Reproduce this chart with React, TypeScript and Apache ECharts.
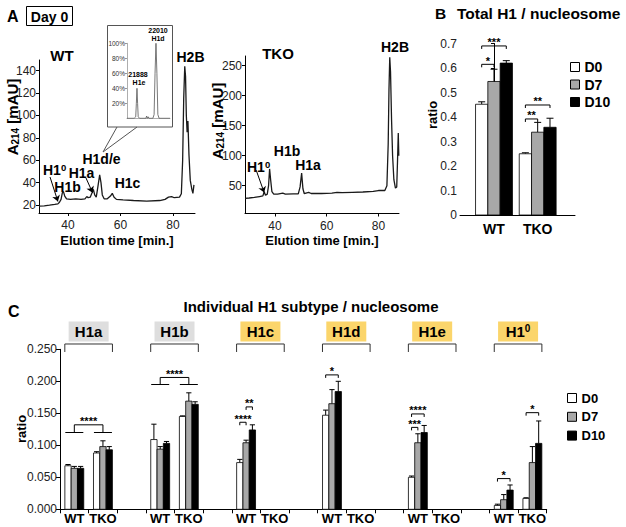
import React, { useEffect, useRef } from "react";
import * as echarts from "echarts";

// ---------- Panel A: chromatograms (elution time [min], A214 [mAU]) ----------
const wtTrace: [number, number][] = [
  [29, 19], [31, 19.3], [33, 19.8], [35, 20.5], [36.2, 21], [36.8, 22.5], [37.4, 25], [37.9, 31], [38.3, 32],
  [38.8, 28], [39.5, 25.5], [41, 25], [43, 25.5], [45, 25], [46.5, 25.5], [47.2, 27.5], [47.7, 26.5], [48.5, 27],
  [49.2, 31], [49.7, 34], [50.2, 29], [50.8, 27], [51.4, 36], [52.1, 47], [52.6, 40], [53.1, 29], [53.8, 25.5],
  [55, 25.5], [56.2, 28], [56.9, 30.4], [57.6, 27], [58.5, 25], [61, 24.5], [65, 24], [70, 23.5], [75, 24],
  [77, 25], [78.3, 27], [79.5, 27.5], [80.5, 26.5], [82.5, 27], [83.2, 30], [83.7, 60], [84.1, 115], [84.5, 144],
  [84.8, 135], [85.1, 100], [85.4, 85], [85.7, 95], [86.1, 65], [86.6, 42], [87.2, 34], [87.6, 30.4], [88, 38],
];
const tkoTrace: [number, number][] = [
  [28.4, 29], [30, 29.5], [32, 30.5], [34, 32], [35.3, 33], [35.8, 40], [36.3, 34], [37, 36], [37.5, 50],
  [37.9, 78], [38.3, 60], [38.8, 40], [39.5, 36], [41, 36], [43, 37.5], [44, 36], [47, 36.5], [49, 36.5],
  [49.7, 48], [50.3, 71], [50.8, 45], [51.3, 37], [53, 39], [54, 37], [58, 37], [62, 37.5], [64, 39], [66, 38.5],
  [70, 39], [74, 39.5], [78, 40.5], [80, 42], [82.5, 42], [83.3, 50], [83.8, 120], [84.1, 210], [84.4, 264],
  [84.7, 240], [85.1, 160], [85.5, 100], [86, 60], [86.6, 46], [87.1, 48], [87.4, 90], [87.7, 138], [87.9, 100],
];
// inset: deconvoluted mass spectrum (mass [Da], relative intensity %)
const insetTrace: [number, number][] = [
  [21824, 0], [21870, 0], [21880, 2], [21884, 20], [21888, 40], [21892, 20], [21896, 2], [21905, 0],
  [21945, 0], [21950, 3], [21955, 0], [21960, 2], [21965, 0], [21990, 0], [21998, 5], [22004, 60],
  [22010, 100], [22016, 60], [22022, 5], [22030, 0], [22100, 0],
];
const wtYTicks = [20, 40, 60, 80, 100, 120, 140];
const tkoYTicks = [50, 100, 150, 200, 250];
const elutionTicks = [40, 60, 80];
const insetYTicks = [20, 40, 60, 80, 100];

// arrows pointing at the H1(0) / H1a peaks: [fromX, fromY, toX, toY] in data units
const wtArrows = [
  [33.2, 45, 36.2, 23.1],
  [46.9, 44.1, 49.4, 31],
];
const tkoArrows = [[32.7, 76, 35.8, 38.5]];

// ---------- Panel B: total H1 / nucleosome ----------
const genotypes = ["WT", "TKO"];
const days = ["D0", "D7", "D10"];
const totalD0 = [0.452, 0.25];
const totalD0Err = [0.01, 0.004];
const totalD7 = [0.545, 0.338];
const totalD7Err = [0.05, 0.04];
const totalD10 = [0.62, 0.358];
const totalD10Err = [0.01, 0.037];
const sigB = [
  { geno: 0, from: 0, to: 1, y: 0.615, label: "*" },
  { geno: 0, from: 0, to: 2, y: 0.69, label: "***" },
  { geno: 1, from: 0, to: 1, y: 0.392, label: "**" },
  { geno: 1, from: 0, to: 2, y: 0.449, label: "**" },
];

// ---------- Panel C: individual H1 subtype / nucleosome ----------
const subtypes = ["H1a", "H1b", "H1c", "H1d", "H1e", "H1\u2070"];
// order: [subtype0 WT, subtype0 TKO, subtype1 WT, ...]
const h1D0 = [0.068, 0.088, 0.109, 0.145, 0.073, null, 0.147, null, 0.05, null, 0.006, 0.017];
const h1D0Err = [0.002, 0.002, 0.024, 0.001, 0.005, null, 0.008, null, 0.002, null, 0.002, 0.001];
const h1D7 = [0.064, 0.098, 0.094, 0.169, 0.104, null, 0.165, null, 0.104, null, 0.015, 0.073];
const h1D7Err = [0.003, 0.009, 0.004, 0.013, 0.004, null, 0.022, null, 0.014, null, 0.008, 0.025];
const h1D10 = [0.064, 0.093, 0.103, 0.164, 0.124, null, 0.184, null, 0.12, null, 0.03, 0.103];
const h1D10Err = [0.003, 0.005, 0.003, 0.004, 0.008, null, 0.016, null, 0.011, null, 0.008, 0.035];
const sigCBetween = [
  { group: 0, y1: 0.12, y2: 0.132, label: "****" },
  { group: 1, y1: 0.195, y2: 0.206, label: "****" },
];
const sigCWithin = [
  { cat: 6, from: 0, to: 1, y: 0.136, label: "****" },
  { cat: 6, from: 1, to: 2, y: 0.16, label: "**" },
  { cat: 9, from: 0, to: 2, y: 0.21, label: "*" },
  { cat: 12, from: 0, to: 1, y: 0.128, label: "***" },
  { cat: 12, from: 0, to: 2, y: 0.149, label: "****" },
  { cat: 15, from: 0, to: 2, y: 0.048, label: "*" },
  { cat: 16, from: 0, to: 2, y: 0.151, label: "*" },
];
const cYTicks = [0, 0.05, 0.1, 0.15, 0.2, 0.25];

const FONT = "'Liberation Sans', Arial, Helvetica, sans-serif";
const BAR_COLORS = ["#ffffff", "#a8a8a8", "#000000"];

const cCategories: string[] = [];
subtypes.forEach((s, g) => {
  cCategories.push(`${s}|WT`, `${s}|TKO`);
  if (g < subtypes.length - 1) cCategories.push(`${s}|`);
});

function txt(text: string, x: number, y: number, size: number, align = "center", extra: any = {}) {
  return {
    type: "text",
    x,
    y,
    z: 100,
    ...extra,
    style: {
      text,
      fontSize: size,
      fontWeight: "bold",
      fontFamily: FONT,
      fill: "#000",
      align,
      textAlign: align,
      verticalAlign: "middle",
      textVerticalAlign: "middle",
      ...(extra.style || {}),
    },
  };
}

function supText(x: number, y: number, size: number, align = "left") {
  return {
    type: "text",
    x,
    y,
    z: 100,
    style: {
      text: "{m|H1}{s|0}",
      align,
      textAlign: align,
      verticalAlign: "middle",
      textVerticalAlign: "middle",
      rich: {
        m: { fontSize: size, fontWeight: "bold", fontFamily: FONT, fill: "#000", lineHeight: size + 1 },
        s: { fontSize: size * 0.68, fontWeight: "bold", fontFamily: FONT, fill: "#000", verticalAlign: "top" },
      },
    },
  };
}

function aLabel(x: number, y: number) {
  return {
    type: "text",
    x,
    y,
    z: 100,
    rotation: Math.PI / 2,
    style: {
      text: "{m|A}{s|214}{m| [mAU]}",
      align: "center",
      textAlign: "center",
      verticalAlign: "middle",
      textVerticalAlign: "middle",
      rich: {
        m: { fontSize: 15, fontWeight: "bold", fontFamily: FONT, fill: "#000", lineHeight: 17 },
        s: { fontSize: 10, fontWeight: "bold", fontFamily: FONT, fill: "#000", verticalAlign: "bottom" },
      },
    },
  };
}

const makeBarRender = (bw: number, cap: number) => (params: any, api: any) => {
  const c = api.value(0);
  const m = api.value(1);
  const e = api.value(2);
  const d = api.value(3);
  const base = api.coord([c, 0]);
  const top = api.coord([c, m]);
  const et = api.coord([c, m + e]);
  const x = base[0] + (d - 1) * bw;
  const st = api.style();
  return {
    type: "group",
    children: [
      { type: "line", shape: { x1: x, y1: top[1], x2: x, y2: et[1] }, style: { stroke: "#000", lineWidth: 1 } },
      { type: "line", shape: { x1: x - cap, y1: et[1], x2: x + cap, y2: et[1] }, style: { stroke: "#000", lineWidth: 1 } },
      {
        type: "rect",
        shape: { x: x - bw / 2, y: top[1], width: bw, height: base[1] - top[1] },
        style: { fill: st.fill, stroke: "#000", lineWidth: 0.8 },
      },
    ],
  };
};

function starText(x: number, y: number, label: string) {
  return {
    type: "text",
    x,
    y: y - 3.5,
    style: {
      text: label,
      fontSize: 11,
      fontWeight: "bold",
      fontFamily: FONT,
      fill: "#000",
      align: "center",
      textAlign: "center",
      verticalAlign: "middle",
      textVerticalAlign: "middle",
    },
  };
}

const makeWithinRender = (list: any[], bw: number, catKey: string) => (params: any, api: any) => {
  const s = list[params.dataIndex];
  const p = api.coord([s[catKey], s.y]);
  const x1 = p[0] + (s.from - 1) * bw;
  const x2 = p[0] + (s.to - 1) * bw;
  const y = p[1];
  return {
    type: "group",
    children: [
      {
        type: "polyline",
        shape: { points: [[x1, y + 3], [x1, y], [x2, y], [x2, y + 3]] },
        style: { stroke: "#000", lineWidth: 1, fill: "none" },
      },
      starText((x1 + x2) / 2, y, s.label),
    ],
  };
};

function buildOption() {
  const bSeries = days.map((d, di) => {
    const means = [totalD0, totalD7, totalD10][di];
    const errs = [totalD0Err, totalD7Err, totalD10Err][di];
    return {
      type: "custom",
      name: d,
      xAxisIndex: 3,
      yAxisIndex: 3,
      itemStyle: { color: BAR_COLORS[di], borderColor: "#000", borderWidth: 1 },
      encode: { x: 0, y: 1 },
      data: genotypes.map((g, gi) => [gi, means[gi], errs[gi], di]),
      renderItem: makeBarRender(12.3, 3.5),
    };
  });

  const cSeries = days.map((d, di) => {
    const means = [h1D0, h1D7, h1D10][di];
    const errs = [h1D0Err, h1D7Err, h1D10Err][di];
    const data: any[] = [];
    means.forEach((m, i) => {
      if (m == null) return;
      const g = Math.floor(i / 2);
      const k = i % 2;
      data.push([g * 3 + k, m, errs[i], di]);
    });
    return {
      type: "custom",
      name: d,
      xAxisIndex: 4,
      yAxisIndex: 4,
      itemStyle: { color: BAR_COLORS[di], borderColor: "#000", borderWidth: 1 },
      encode: { x: 0, y: 1 },
      data,
      renderItem: makeBarRender(6.3, 2.6),
    };
  });

  const axisLine = { show: true, lineStyle: { color: "#000", width: 1 } };
  const tickLabel = (size: number) => ({ fontSize: size, color: "#222", fontFamily: FONT });

  const arrowMark = (arr: number[][]) => ({
    silent: true,
    symbol: ["none", "arrow"],
    symbolSize: 6,
    lineStyle: { color: "#000", width: 1, type: "solid" },
    label: { show: false },
    emphasis: { disabled: true },
    data: arr.map((a) => [{ coord: [a[0], a[1]] }, { coord: [a[2], a[3]] }]),
  });

  const graphics: any[] = [
    // Panel A
    txt("A", 7, 16, 16, "left"),
    { type: "rect", shape: { x: 26.5, y: 6.5, width: 46, height: 19 }, style: { fill: "none", stroke: "#000", lineWidth: 1 }, z: 100 },
    txt("Day 0", 49.5, 16.5, 14),
    txt("WT", 62, 55, 15),
    txt("TKO", 278, 53, 15),
    txt("H2B", 190.5, 57, 14),
    txt("H2B", 395, 47, 14),
    supText(43, 170, 14),
    txt("H1b", 67.5, 186.7, 14),
    txt("H1a", 81.5, 173, 14),
    txt("H1d/e", 101.5, 159.3, 14),
    txt("H1c", 127.5, 182.7, 14),
    supText(247, 166.5, 14),
    txt("H1b", 287, 151, 14),
    txt("H1a", 308, 164.7, 14),
    txt("Elution time [min.]", 117, 240, 13),
    txt("Elution time [min.]", 322, 240, 13),
    aLabel(12, 117),
    aLabel(217, 121),
    // inset box + callout
    { type: "rect", shape: { x: 107.5, y: 25.5, width: 65, height: 101.5 }, style: { fill: "none", stroke: "#555", lineWidth: 1 }, z: 1 },
    { type: "line", shape: { x1: 117, y1: 127, x2: 103, y2: 152 }, style: { stroke: "#555", lineWidth: 1 }, z: 1 },
    { type: "line", shape: { x1: 137, y1: 127, x2: 103, y2: 152 }, style: { stroke: "#555", lineWidth: 1 }, z: 1 },
    txt("22010", 158, 30.5, 7),
    txt("H1d", 158, 38, 7),
    txt("21888", 138, 74, 7),
    txt("H1e", 139, 82, 7),
    // Panel B
    txt("B", 435, 13.5, 15.5, "left"),
    txt("Total H1 / nucleosome", 457, 13.5, 15.5, "left"),
    txt("ratio", 432, 115, 13, "center", { rotation: Math.PI / 2 }),
    // Panel C
    txt("C", 8, 311, 16, "left"),
    txt("Individual H1 subtype / nucleosome", 311, 306.7, 15),
    txt("ratio", 21, 429, 13, "center", { rotation: Math.PI / 2 }),
  ];

  return {
    animation: false,
    backgroundColor: "#ffffff",
    textStyle: { fontFamily: FONT },
    grid: [
      { left: 39, top: 60, width: 156, height: 153 },
      { left: 245, top: 56, width: 154, height: 157.5 },
      { left: 127, top: 43.3, width: 43, height: 75 },
      { left: 460, top: 43.5, width: 115, height: 171.5 },
      { left: 60, top: 349.3, width: 486.7, height: 160 },
    ],
    xAxis: [
      {
        gridIndex: 0, type: "value", min: 29, max: 88.4, axisLine,
        axisTick: { show: true, length: 3, customValues: elutionTicks, lineStyle: { color: "#000" } },
        axisLabel: { ...tickLabel(12), customValues: elutionTicks, margin: 6 },
        splitLine: { show: false },
      },
      {
        gridIndex: 1, type: "value", min: 28.38, max: 87.98, axisLine,
        axisTick: { show: true, length: 3, customValues: elutionTicks, lineStyle: { color: "#000" } },
        axisLabel: { ...tickLabel(12), customValues: elutionTicks, margin: 6 },
        splitLine: { show: false },
      },
      {
        gridIndex: 2, type: "value", min: 21824, max: 22100,
        axisLine: { show: true, lineStyle: { color: "#999", width: 0.8 } },
        axisTick: { show: false }, axisLabel: { show: false }, splitLine: { show: false },
      },
      {
        gridIndex: 3, type: "value", min: -0.778, max: 1.854, axisLine,
        axisTick: { show: false },
        axisLabel: {
          customValues: [0, 1],
          formatter: (v: number) => genotypes[Math.round(v)] || "",
          fontSize: 14, fontWeight: "bold", color: "#000", fontFamily: FONT, margin: 7,
        },
        splitLine: { show: false },
      },
      {
        gridIndex: 4, type: "category", data: cCategories, boundaryGap: true, axisLine,
        axisTick: { show: true, interval: 0, length: 4, lineStyle: { color: "#000" } },
        axisLabel: {
          interval: 0, formatter: (v: string) => v.split("|")[1],
          fontSize: 13, fontWeight: "bold", color: "#000", fontFamily: FONT, margin: 3,
        },
        splitLine: { show: false },
      },
    ],
    yAxis: [
      {
        gridIndex: 0, type: "value", min: 12.85, max: 149.56, axisLine,
        axisTick: { show: true, length: 3, customValues: wtYTicks, lineStyle: { color: "#000" } },
        axisLabel: { ...tickLabel(12), customValues: wtYTicks, margin: 3 },
        splitLine: { show: false },
      },
      {
        gridIndex: 1, type: "value", min: 3.7, max: 266.2, axisLine,
        axisTick: { show: true, length: 3, customValues: tkoYTicks, lineStyle: { color: "#000" } },
        axisLabel: { ...tickLabel(12), customValues: tkoYTicks, margin: 3 },
        splitLine: { show: false },
      },
      {
        gridIndex: 2, type: "value", min: 0, max: 100,
        axisLine: { show: true, lineStyle: { color: "#999", width: 0.8 } },
        axisTick: { show: true, length: 2, customValues: insetYTicks, lineStyle: { color: "#999" } },
        axisLabel: { customValues: insetYTicks, formatter: (v: number) => v + "%", fontSize: 6.5, color: "#333", fontFamily: FONT, margin: 2 },
        splitLine: { show: false },
      },
      {
        gridIndex: 3, type: "value", min: 0, max: 0.7, interval: 0.1, axisLine,
        axisTick: { show: true, length: 3, lineStyle: { color: "#000" } },
        axisLabel: { ...tickLabel(12), margin: 3, formatter: (v: number) => (v === 0 ? "0" : v.toFixed(1)) },
        splitLine: { show: false },
      },
      {
        gridIndex: 4, type: "value", min: 0, max: 0.25, interval: 0.05, axisLine,
        axisTick: { show: true, length: 4, lineStyle: { color: "#000" } },
        axisLabel: { ...tickLabel(12), margin: 3, customValues: cYTicks, formatter: (v: number) => v.toFixed(3) },
        splitLine: { show: false },
      },
    ],
    legend: [
      {
        data: days, orient: "vertical", left: 565, top: 55, itemWidth: 9, itemHeight: 9, itemGap: 3.5,
        icon: "rect", selectedMode: false,
        itemStyle: { borderColor: "#000", borderWidth: 1 },
        textStyle: { fontSize: 14, fontWeight: "bold", color: "#000", fontFamily: FONT, lineHeight: 14 },
      },
      {
        data: days, orient: "vertical", left: 562, top: 386, itemWidth: 9, itemHeight: 9, itemGap: 4.8,
        icon: "rect", selectedMode: false,
        itemStyle: { borderColor: "#000", borderWidth: 1 },
        textStyle: { fontSize: 13, fontWeight: "bold", color: "#000", fontFamily: FONT, lineHeight: 14 },
      },
    ],
    series: [
      {
        type: "line", name: "WT trace", xAxisIndex: 0, yAxisIndex: 0, data: wtTrace, showSymbol: false,
        lineStyle: { color: "#1a1a1a", width: 1.3 }, markLine: arrowMark(wtArrows),
      },
      {
        type: "line", name: "TKO trace", xAxisIndex: 1, yAxisIndex: 1, data: tkoTrace, showSymbol: false,
        lineStyle: { color: "#1a1a1a", width: 1.3 }, markLine: arrowMark(tkoArrows),
      },
      {
        type: "line", name: "inset", xAxisIndex: 2, yAxisIndex: 2, data: insetTrace, showSymbol: false,
        lineStyle: { color: "#555", width: 0.8 },
      },
      ...bSeries,
      {
        type: "custom", name: "sigB", xAxisIndex: 3, yAxisIndex: 3, encode: { x: 0, y: 1 },
        data: sigB.map((s) => [s.geno, s.y]),
        renderItem: makeWithinRender(sigB, 12.3, "geno"),
      },
      ...cSeries,
      {
        type: "custom", name: "sigC", xAxisIndex: 4, yAxisIndex: 4, encode: { x: 0, y: 1 },
        data: sigCWithin.map((s) => [s.cat, s.y]),
        renderItem: makeWithinRender(sigCWithin, 6.3, "cat"),
      },
      {
        type: "custom", name: "sigCBetween", xAxisIndex: 4, yAxisIndex: 4, encode: { x: 0, y: 1 },
        data: sigCBetween.map((s) => [s.group * 3, s.y1]),
        renderItem: (params: any, api: any) => {
          const s = sigCBetween[params.dataIndex];
          const a = api.coord([s.group * 3, s.y1]);
          const b = api.coord([s.group * 3 + 1, s.y2]);
          const yA = a[1];
          const yB = b[1];
          const st = { stroke: "#000", lineWidth: 1, fill: "none" };
          return {
            type: "group",
            children: [
              { type: "line", shape: { x1: a[0] - 9, y1: yA, x2: a[0] + 9, y2: yA }, style: st },
              { type: "line", shape: { x1: b[0] - 9, y1: yA, x2: b[0] + 9, y2: yA }, style: st },
              { type: "polyline", shape: { points: [[a[0], yA], [a[0], yB], [b[0], yB], [b[0], yA]] }, style: st },
              starText((a[0] + b[0]) / 2, yB, s.label),
            ],
          };
        },
      },
      {
        type: "custom", name: "subtypes", xAxisIndex: 4, yAxisIndex: 4, encode: { x: 0, y: 1 },
        data: subtypes.map((s, g) => [g * 3, 0.25]),
        renderItem: (params: any, api: any) => {
          const g = params.dataIndex;
          const a = api.coord([g * 3, 0.2583]);
          const b = api.coord([g * 3 + 1, 0.2458]);
          const lab = api.coord([g * 3, 0.2777]);
          const xL = a[0] - 9.5;
          const xR = b[0] + 9.5;
          const cx = (xL + xR) / 2;
          const isZero = g === subtypes.length - 1;
          const label = isZero
            ? {
                type: "text", x: cx, y: lab[1],
                style: {
                  text: "{m|H1}{s|0}", align: "center", textAlign: "center", verticalAlign: "middle", textVerticalAlign: "middle",
                  rich: {
                    m: { fontSize: 15, fontWeight: "bold", fontFamily: FONT, fill: "#000", lineHeight: 17 },
                    s: { fontSize: 10, fontWeight: "bold", fontFamily: FONT, fill: "#000", verticalAlign: "top" },
                  },
                },
              }
            : {
                type: "text", x: cx, y: lab[1],
                style: {
                  text: subtypes[g], fontSize: 15, fontWeight: "bold", fontFamily: FONT, fill: "#000",
                  align: "center", textAlign: "center", verticalAlign: "middle", textVerticalAlign: "middle",
                },
              };
          return {
            type: "group",
            children: [
              {
                type: "rect", shape: { x: cx - 20, y: lab[1] - 10, width: 40, height: 20 },
                style: { fill: g < 2 ? "#dedede" : "#fbd56b", stroke: "none" },
              },
              label,
              {
                type: "polyline", shape: { points: [[xL, b[1]], [xL, a[1]], [xR, a[1]], [xR, b[1]]] },
                style: { stroke: "#333", lineWidth: 1, fill: "none" },
              },
            ],
          };
        },
      },
    ],
    graphic: graphics,
  };
}

export default function App() {
  const ref = useRef<HTMLDivElement>(null);
  useEffect(() => {
    if (!ref.current) return;
    const chart = echarts.init(ref.current, undefined, { renderer: "svg" });
    chart.setOption(buildOption() as any);
    return () => chart.dispose();
  }, []);
  return (
    <div
      ref={ref}
      style={{ position: "fixed", left: 0, top: 0, width: 626, height: 527, background: "#fff" }}
    />
  );
}
